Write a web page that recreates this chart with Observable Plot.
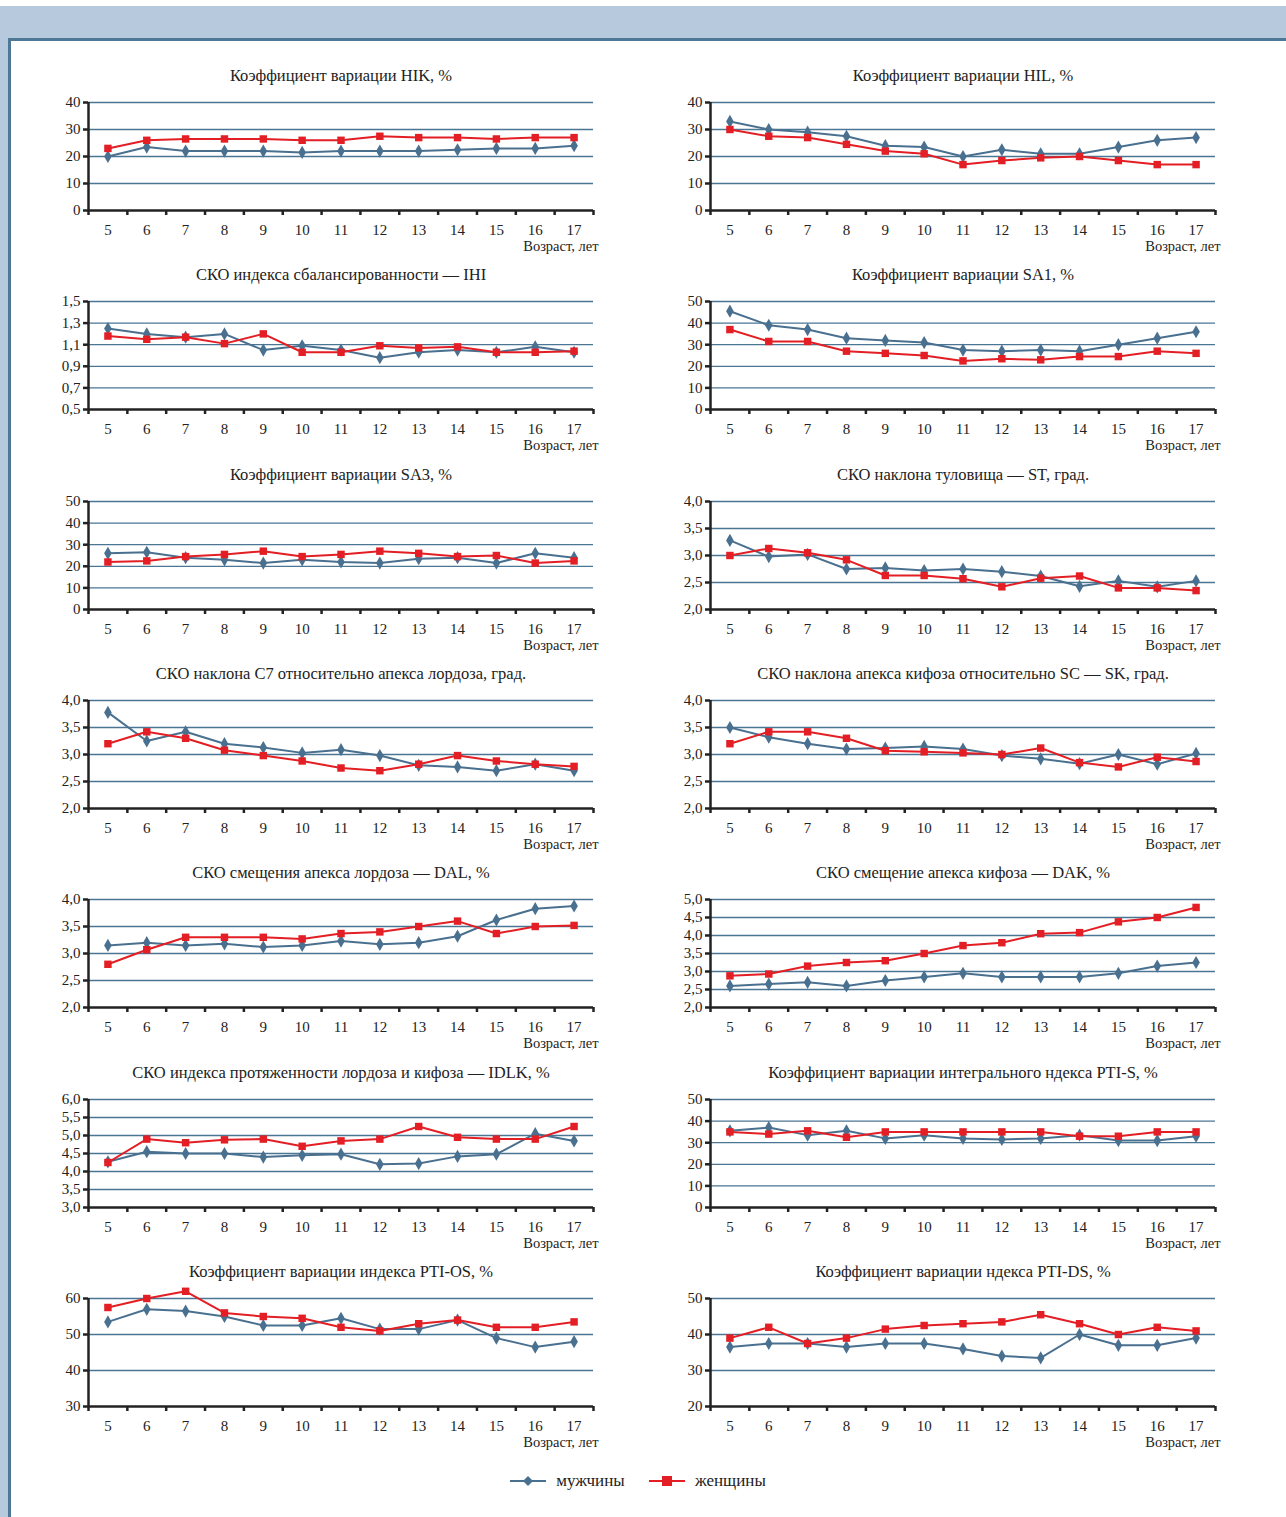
<!DOCTYPE html>
<html><head><meta charset="utf-8">
<script src="https://cdn.jsdelivr.net/npm/d3@7"></script>
<script src="https://cdn.jsdelivr.net/npm/@observablehq/plot@0.6"></script>
<style>
body{margin:0;width:1286px;height:1517px;position:relative;background:#fff;font-family:"Liberation Serif","DejaVu Serif",serif;overflow:hidden}
#band{position:absolute;left:0;top:6px;width:1286px;height:1511px;background:#b7c9dc}
#box{position:absolute;left:8px;top:38px;width:1290px;height:1490px;background:#fff;border-left:3px solid #4f7896;border-top:3px solid #4f7896}
.panel{position:absolute;width:620px;height:200px}
#legend{position:absolute;top:1470px;left:0;width:1286px;text-align:center;font-size:17px;color:#222}
#legend span{margin:0 10px;vertical-align:middle}
</style></head>
<body>
<div id="band"></div><div id="box"></div>
<div id="panels"></div>
<div id="legend">
<svg width="36" height="14" style="vertical-align:middle"><line x1="0" y1="7" x2="36" y2="7" stroke="#4a7090" stroke-width="2"/><path d="M18 2 L23 7 L18 12 L13 7Z" fill="#4a7090"/></svg><span>мужчины</span>
<svg width="36" height="14" style="vertical-align:middle;margin-left:10px"><line x1="0" y1="7" x2="36" y2="7" stroke="#e31e24" stroke-width="2"/><rect x="13" y="2" width="10" height="10" fill="#e31e24"/></svg><span>женщины</span>
</div>
<script>
const ages = [5,6,7,8,9,10,11,12,13,14,15,16,17];

const titles = [
  "Коэффициент вариации HIK, %",
  "Коэффициент вариации HIL, %",
  "СКО индекса сбалансированности — IHI",
  "Коэффициент вариации SA1, %",
  "Коэффициент вариации SA3, %",
  "СКО наклона туловища — ST, град.",
  "СКО наклона C7 относительно апекса лордоза, град.",
  "СКО наклона апекса кифоза относительно SC — SK, град.",
  "СКО смещения апекса лордоза — DAL, %",
  "СКО смещение апекса кифоза — DAK, %",
  "СКО индекса протяженности лордоза и кифоза — IDLK, %",
  "Коэффициент вариации интегрального ндекса PTI-S, %",
  "Коэффициент вариации индекса PTI-OS, %",
  "Коэффициент вариации ндекса PTI-DS, %"
];

const yTicks = [
  [0,10,20,30,40],
  [0,10,20,30,40],
  [0.5,0.7,0.9,1.1,1.3,1.5],
  [0,10,20,30,40,50],
  [0,10,20,30,40,50],
  [2.0,2.5,3.0,3.5,4.0],
  [2.0,2.5,3.0,3.5,4.0],
  [2.0,2.5,3.0,3.5,4.0],
  [2.0,2.5,3.0,3.5,4.0],
  [2.0,2.5,3.0,3.5,4.0,4.5,5.0],
  [3.0,3.5,4.0,4.5,5.0,5.5,6.0],
  [0,10,20,30,40,50],
  [30,40,50,60],
  [20,30,40,50]
];
const decimals = [0,0,1,0,0,1,1,1,1,1,1,0,0,0];

const men = [
  [20,23.5,22,22,22,21.5,22,22,22,22.5,23,23,24],
  [33,30,29,27.5,24,23.5,20,22.5,21,21,23.5,26,27],
  [1.25,1.2,1.17,1.2,1.05,1.09,1.05,0.98,1.03,1.05,1.03,1.08,1.03],
  [45.5,39,37,33,32,31,27.5,27,27.5,27,30,33,36],
  [26,26.5,24,23,21.5,23,22,21.5,23.5,24,21.5,26,24],
  [3.28,2.98,3.02,2.75,2.77,2.72,2.75,2.7,2.62,2.43,2.53,2.42,2.53],
  [3.78,3.25,3.42,3.2,3.13,3.03,3.09,2.98,2.8,2.77,2.7,2.82,2.7],
  [3.5,3.32,3.2,3.1,3.12,3.15,3.1,2.98,2.92,2.83,3.0,2.82,3.02],
  [3.15,3.2,3.15,3.18,3.12,3.15,3.23,3.17,3.2,3.32,3.62,3.83,3.88],
  [2.6,2.65,2.7,2.6,2.75,2.85,2.95,2.85,2.85,2.85,2.95,3.15,3.25],
  [4.27,4.55,4.5,4.5,4.4,4.45,4.48,4.2,4.22,4.42,4.48,5.05,4.85],
  [35.5,37,33.5,35.5,32,33.5,32,31.5,32,33.5,31,31,33],
  [53.5,57,56.5,55,52.5,52.5,54.5,51.5,51.5,54,49,46.5,48],
  [36.5,37.5,37.5,36.5,37.5,37.5,36,34,33.5,40,37,37,39]
];
const women = [
  [23,26,26.5,26.5,26.5,26,26,27.5,27,27,26.5,27,27],
  [30,27.5,27,24.5,22,21,17,18.5,19.5,20,18.5,17,17],
  [1.18,1.15,1.17,1.11,1.2,1.03,1.03,1.09,1.07,1.08,1.03,1.03,1.04],
  [37,31.5,31.5,27,26,25,22.5,23.5,23,24.5,24.5,27,26],
  [22,22.5,24.5,25.5,27,24.5,25.5,27,26,24.5,25,21.5,22.5],
  [3.0,3.13,3.05,2.92,2.63,2.63,2.57,2.42,2.58,2.62,2.4,2.4,2.35],
  [3.2,3.42,3.3,3.08,2.98,2.88,2.75,2.7,2.82,2.98,2.88,2.82,2.78],
  [3.2,3.42,3.42,3.3,3.07,3.05,3.03,3.0,3.12,2.85,2.77,2.95,2.87],
  [2.8,3.07,3.3,3.3,3.3,3.27,3.37,3.4,3.5,3.6,3.37,3.5,3.52],
  [2.88,2.93,3.15,3.25,3.3,3.5,3.72,3.8,4.05,4.08,4.38,4.5,4.78],
  [4.25,4.9,4.8,4.88,4.9,4.7,4.85,4.9,5.25,4.95,4.9,4.9,5.25],
  [35,34,35.5,32.5,35,35,35,35,35,33,33,35,35],
  [57.5,60,62,56,55,54.5,52,51,53,54,52,52,53.5],
  [39,42,37.5,39,41.5,42.5,43,43.5,45.5,43,40,42,41]
];

const halfTicks = d3.range(4.5, 18, 1);
const menColor = "#4a7090", womenColor = "#e31e24";

titles.forEach((title, i) => {
  const col = i % 2, row = Math.floor(i / 2);
  const ticks = yTicks[i];
  const fmt = d => d3.format("." + decimals[i] + "f")(d).replace(".", ",");
  const m = ages.map((a, k) => ({age: a, v: men[i][k]}));
  const w = ages.map((a, k) => ({age: a, v: women[i][k]}));
  const chart = Plot.plot({
    width: 620, height: 200,
    marginLeft: 88, marginRight: 27, marginTop: 42, marginBottom: 50,
    style: {fontFamily: "Liberation Serif, DejaVu Serif, serif", fontSize: "15px", color: "#222", overflow: "visible"},
    x: {domain: [4.5, 17.5]},
    y: {domain: [ticks[0], ticks[ticks.length - 1]]},
    marks: [
      Plot.ruleY(ticks.slice(1), {stroke: "#4a7593", strokeWidth: 1.3}),
      Plot.axisY({ticks, tickFormat: fmt, tickSize: 5, tickPadding: 3, label: null, stroke: "#222", strokeWidth: 2.5, fontSize: 15}),
      Plot.axisX({ticks: halfTicks, tickFormat: () => "", tickSize: 5, label: null, stroke: "#222", strokeWidth: 2.5}),
      Plot.axisX({ticks: ages, tickFormat: d => d, tickSize: 0, tickPadding: 14, label: null, fontSize: 15}),
      Plot.ruleY([ticks[0]], {stroke: "#222", strokeWidth: 2.5}),
      Plot.ruleX([4.5], {stroke: "#222", strokeWidth: 2.5}),
      Plot.line(m, {x: "age", y: "v", stroke: menColor, strokeWidth: 2}),
      Plot.dot(m, {x: "age", y: "v", symbol: "diamond", r: 4, fill: menColor}),
      Plot.line(w, {x: "age", y: "v", stroke: womenColor, strokeWidth: 2}),
      Plot.dot(w, {x: "age", y: "v", symbol: "square", r: 4.2, fill: womenColor}),
      Plot.text([title], {frameAnchor: "top", dy: -33, fontSize: 16.5, fill: "#222"}),
      Plot.text(["Возраст, лет"], {frameAnchor: "bottom-right", dy: 40, dx: 5, textAnchor: "end", fontSize: 14.5, fill: "#222"})
    ]
  });
  const div = document.createElement("div");
  div.className = "panel";
  div.style.left = (col ? 622 : 0) + "px";
  div.style.top = (60 + row * 199.3) + "px";
  div.append(chart);
  document.getElementById("panels").append(div);
});
</script>
</body></html>
